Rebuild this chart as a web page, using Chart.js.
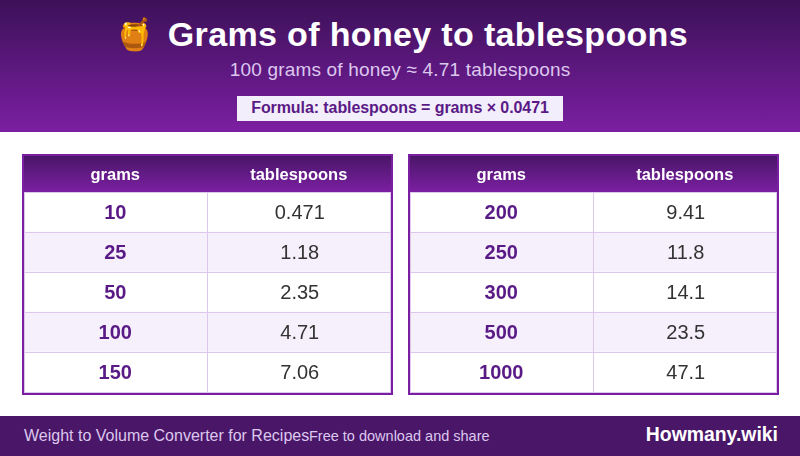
<!DOCTYPE html>
<html>
<head>
<meta charset="utf-8">
<title>Grams of honey to tablespoons</title>
<script src="https://cdn.jsdelivr.net/npm/chart.js@4"></script>
<style>
html, body { margin: 0; padding: 0; background: #fff; }
body { width: 800px; height: 456px; position: relative; overflow: hidden; font-family: "Liberation Sans", Arial, sans-serif; }
#header { position: absolute; left: 0; top: 0; width: 800px; height: 132px; background: linear-gradient(180deg, #3c1158, #7b1fa2); }
#title { position: absolute; left: 2px; top: 14px; width: 800px; text-align: center; color: #fff; font-size: 34px; font-weight: bold; line-height: 40px; white-space: pre; letter-spacing: 0.35px; }
#title span { display: inline-block; letter-spacing: 0; transform: translateX(-3px) scale(0.92); }
#subtitle { position: absolute; left: 0; top: 59px; width: 800px; text-align: center; color: #dcc8ee; font-size: 19px; line-height: 22px; letter-spacing: 0.19px; }
#formula { position: absolute; left: 237px; top: 96px; width: 326px; height: 25px; line-height: 23px; text-align: center; background: #f3eefb; color: #5a1a86; font-size: 16px; font-weight: bold; letter-spacing: -0.08px; }
#footer { position: absolute; left: 0; top: 416px; width: 800px; height: 40px; background: #4a1668; }
#footer div { position: absolute; line-height: 40px; white-space: nowrap; }
#foot1 { left: 24px; color: #dcc8ee; font-size: 16px; }
#foot2 { left: 309px; color: #dcc8ee; font-size: 14.5px; }
#foot3 { right: 22px; color: #fff; font-size: 19.4px; font-weight: bold; top: -2px; }
.tbl { position: absolute; top: 154px; width: 371px; height: 241px; }
</style>
</head>
<body>
<div id="header">
  <div id="title"><span>🍯</span> Grams of honey to tablespoons</div>
  <div id="subtitle">100 grams of honey ≈ 4.71 tablespoons</div>
  <div id="formula">Formula: tablespoons = grams × 0.0471</div>
</div>
<div class="tbl" style="left:22px"><canvas id="left-table" width="371" height="241"></canvas></div>
<div class="tbl" style="left:408px"><canvas id="right-table" width="371" height="241"></canvas></div>
<div id="footer">
  <div id="foot1">Weight to Volume Converter for Recipes</div>
  <div id="foot2">Free to download and share</div>
  <div id="foot3">Howmany.wiki</div>
</div>
<script>
const columns = ['grams', 'tablespoons'];
const gramsLeft = ['10', '25', '50', '100', '150'];
const tbspLeft = ['0.471', '1.18', '2.35', '4.71', '7.06'];
const gramsRight = ['200', '250', '300', '500', '1000'];
const tbspRight = ['9.41', '11.8', '14.1', '23.5', '47.1'];

// one unit of x per column, so the cells are stacked bars
const cellWidth = [1, 1, 1, 1, 1];

const FONT = '"Liberation Sans", Arial, sans-serif';
const LINE = '#dcc8ec';
const BORDER = '#7b1fa2';

const tablePlugin = {
    id: 'tablePlugin',
    beforeDraw(chart) {
        const { ctx, chartArea: a } = chart;
        // column header band
        const grad = ctx.createLinearGradient(0, 2, 0, a.top);
        grad.addColorStop(0, '#4a1668');
        grad.addColorStop(1, '#7b1fa2');
        ctx.save();
        ctx.fillStyle = grad;
        ctx.fillRect(0, 0, chart.width, a.top);
        ctx.restore();
    },
    afterDatasetsDraw(chart) {
        const { ctx, chartArea: a, scales } = chart;
        const rows = chart.data.labels;
        const values = chart.options.plugins.tablePlugin.values;
        ctx.save();
        // inner lines
        ctx.strokeStyle = LINE;
        ctx.lineWidth = 1;
        ctx.beginPath();
        const mid = Math.round(scales.x.getPixelForValue(1)) - 0.5;
        ctx.moveTo(mid, a.top);
        ctx.lineTo(mid, a.bottom);
        rows.forEach((r, i) => {
            if (i === 0) return;
            const y = Math.round((scales.y.getPixelForValue(i - 1) + scales.y.getPixelForValue(i)) / 2) + 0.5;
            ctx.moveTo(a.left, y);
            ctx.lineTo(a.right, y);
        });
        ctx.stroke();
        // cell text
        ctx.textAlign = 'center';
        ctx.textBaseline = 'middle';
        rows.forEach((r, i) => {
            const y = scales.y.getPixelForValue(i) + 1;
            ctx.font = 'bold 20px ' + FONT;
            ctx.fillStyle = '#5a1a86';
            ctx.fillText(r, scales.x.getPixelForValue(0.5) - 1, y);
            ctx.font = '20px ' + FONT;
            ctx.fillStyle = '#333333';
            ctx.fillText(values[i], scales.x.getPixelForValue(1.5) + 1, y);
        });
        // outer frame
        ctx.strokeStyle = BORDER;
        ctx.lineWidth = 2;
        ctx.strokeRect(1, 1, chart.width - 2, chart.height - 2);
        ctx.strokeStyle = LINE;
        ctx.lineWidth = 1;
        ctx.strokeRect(a.left - 0.5, a.top + 0.5, a.width + 1, a.height);
        ctx.restore();
    }
};

function drawTable(id, grams, tbsp) {
    new Chart(document.getElementById(id).getContext('2d'), {
        type: 'bar',
        plugins: [tablePlugin],
        data: {
            labels: grams,
            datasets: columns.map(name => ({
                label: name,
                data: cellWidth,
                backgroundColor: ctx => ctx.dataIndex % 2 ? '#f5f0fc' : '#ffffff',
                barPercentage: 1,
                categoryPercentage: 1
            }))
        },
        options: {
            indexAxis: 'y',
            responsive: false,
            animation: false,
            layout: { padding: { left: 3, right: 3, bottom: 3, top: 2 } },
            plugins: {
                legend: { display: false },
                tooltip: { enabled: false },
                tablePlugin: { values: tbsp }
            },
            scales: {
                x: {
                    position: 'top',
                    stacked: true,
                    min: 0,
                    max: 2,
                    border: { display: false },
                    grid: { display: false },
                    // first header sits a touch left of its column centre
                    afterBuildTicks: axis => { axis.ticks = [{ value: 0.4945 }, { value: 1.5 }]; },
                    afterFit: axis => { axis.height = 36; },
                    ticks: {
                        autoSkip: false,
                        maxRotation: 0,
                        padding: -1,
                        color: '#ffffff',
                        font: { family: FONT, size: 16.5, weight: 'bold' },
                        callback: (v, i) => columns[i]
                    }
                },
                y: {
                    stacked: true,
                    border: { display: false },
                    grid: { display: false },
                    ticks: { display: false },
                    afterFit: axis => { axis.width = 0; }
                }
            }
        }
    });
}

drawTable('left-table', gramsLeft, tbspLeft);
drawTable('right-table', gramsRight, tbspRight);
</script>
</body>
</html>
